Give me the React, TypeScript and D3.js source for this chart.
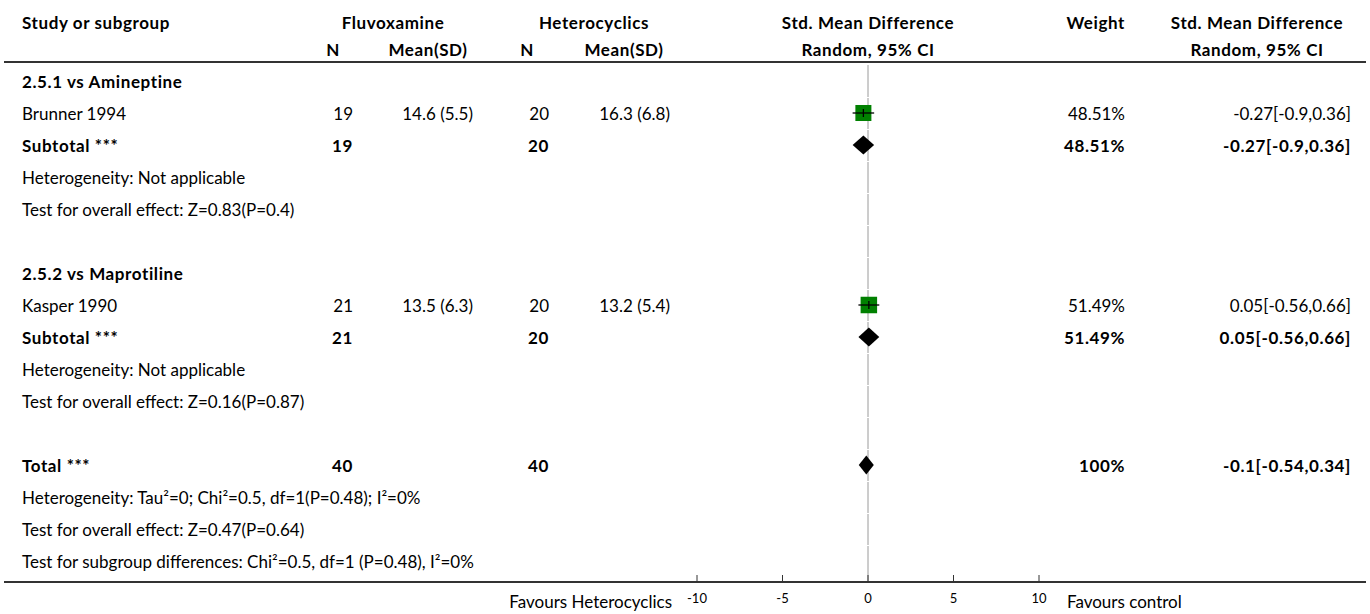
import React from "react";
import * as d3 from "d3";

// ---- data ----
const groupTitles = ["2.5.1 vs Amineptine", "2.5.2 vs Maprotiline"];
const studyNames = ["Brunner 1994", "Kasper 1990"];
const fluvN = [19, 21];
const fluvMeanSD = ["14.6 (5.5)", "13.5 (6.3)"];
const hetN = [20, 20];
const hetMeanSD = ["16.3 (6.8)", "13.2 (5.4)"];
const studySMD = [-0.27, 0.05];
const studyLow = [-0.9, -0.56];
const studyHigh = [0.36, 0.66];
const studyWeight = [48.51, 51.49];
const studyCI = ["-0.27[-0.9,0.36]", "0.05[-0.56,0.66]"];

const subN1 = [19, 21];
const subN2 = [20, 20];
const subSMD = [-0.27, 0.05];
const subLow = [-0.9, -0.56];
const subHigh = [0.36, 0.66];
const subWeight = ["48.51%", "51.49%"];
const subCI = ["-0.27[-0.9,0.36]", "0.05[-0.56,0.66]"];
const subHet = ["Heterogeneity: Not applicable", "Heterogeneity: Not applicable"];
const subTest = ["Test for overall effect: Z=0.83(P=0.4)", "Test for overall effect: Z=0.16(P=0.87)"];

const totalN1 = 40;
const totalN2 = 40;
const totalSMD = -0.1;
const totalLow = -0.54;
const totalHigh = 0.34;
const totalWeight = "100%";
const totalCI = "-0.1[-0.54,0.34]";
const totalLines = [
  "Heterogeneity: Tau\u00B2=0; Chi\u00B2=0.5, df=1(P=0.48); I\u00B2=0%",
  "Test for overall effect: Z=0.47(P=0.64)",
  "Test for subgroup differences: Chi\u00B2=0.5, df=1 (P=0.48), I\u00B2=0%",
];

const axisTicks = [-10, -5, 0, 5, 10];
const xDomain = [-10, 10];
const favLeft = "Favours Heterocyclics";
const favRight = "Favours control";

// ---- layout ----
const W = 1370;
const H = 614;
const FONT = "Lato, 'Source Sans Pro', 'Noto Sans', sans-serif";
const FS = 17;

type Row =
  | { kind: "group"; label: string }
  | { kind: "study"; i: number }
  | { kind: "sub"; i: number }
  | { kind: "text"; label: string }
  | { kind: "blank" }
  | { kind: "total" };

export default function App() {
  const rows: Row[] = [];
  groupTitles.forEach((g, gi) => {
    rows.push({ kind: "group", label: g });
    rows.push({ kind: "study", i: gi });
    rows.push({ kind: "sub", i: gi });
    rows.push({ kind: "text", label: subHet[gi] });
    rows.push({ kind: "text", label: subTest[gi] });
    rows.push({ kind: "blank" });
  });
  rows.push({ kind: "total" });
  totalLines.forEach((t) => rows.push({ kind: "text", label: t }));

  const x = d3.scaleLinear().domain(xDomain).range([697, 1039]);
  const y = d3
    .scaleLinear()
    .domain([0, rows.length - 1])
    .range([81, 81 + 32 * (rows.length - 1)]);
  const wScale = d3.scaleSqrt().domain([0, 100]).range([0, 23]);

  const colStudy = 22;
  const colN1 = 353;
  const colM1 = 473;
  const colN2 = 549;
  const colM2 = 670;
  const colW = 1125;
  const colCI = 1351;
  const headerLineY = 62;
  const axisY = 582;

  const txt = (
    s: string | number,
    xx: number,
    yy: number,
    anchor: "start" | "middle" | "end",
    bold = false,
    key?: string
  ) => (
    <text
      key={key}
      x={xx}
      y={yy}
      textAnchor={anchor}
      dominantBaseline="central"
      fontWeight={bold ? 700 : 400}
      letterSpacing={bold ? 0.6 : 0}
      fontSize={FS}
      fill="#000"
    >
      {s}
    </text>
  );

  const diamond = (m: number, lo: number, hi: number, yy: number) => {
    const h = 9.5;
    const pts = [
      [x(lo), yy],
      [x(m), yy - h],
      [x(hi), yy],
      [x(m), yy + h],
    ];
    return <path d={(d3.line()(pts as [number, number][]) || "") + "Z"} fill="#000" />;
  };

  const els: React.ReactNode[] = [];
  rows.forEach((r, ri) => {
    const yy = y(ri);
    if (r.kind === "group") {
      els.push(<g key={ri}>{txt(r.label, colStudy, yy, "start", true)}</g>);
    } else if (r.kind === "study") {
      const i = r.i;
      const s = wScale(studyWeight[i]);
      els.push(
        <g key={ri}>
          {txt(studyNames[i], colStudy, yy, "start")}
          {txt(fluvN[i], colN1, yy, "end")}
          {txt(fluvMeanSD[i], colM1, yy, "end")}
          {txt(hetN[i], colN2, yy, "end")}
          {txt(hetMeanSD[i], colM2, yy, "end")}
          <rect x={x(studySMD[i]) - s / 2} y={yy - s / 2} width={s} height={s} fill="#008000" />
          <line x1={x(studyLow[i])} x2={x(studyHigh[i])} y1={yy} y2={yy} stroke="#000" strokeWidth={1.3} />
          <line x1={x(studySMD[i])} x2={x(studySMD[i])} y1={yy - 4} y2={yy + 4} stroke="#000" strokeWidth={1.3} />
          {txt(studyWeight[i].toFixed(2) + "%", colW, yy, "end")}
          {txt(studyCI[i], colCI, yy, "end")}
        </g>
      );
    } else if (r.kind === "sub") {
      const i = r.i;
      els.push(
        <g key={ri}>
          {txt("Subtotal ***", colStudy, yy, "start", true)}
          {txt(subN1[i], colN1, yy, "end", true)}
          {txt(subN2[i], colN2, yy, "end", true)}
          {diamond(subSMD[i], subLow[i], subHigh[i], yy)}
          {txt(subWeight[i], colW, yy, "end", true)}
          {txt(subCI[i], colCI, yy, "end", true)}
        </g>
      );
    } else if (r.kind === "text") {
      els.push(<g key={ri}>{txt(r.label, colStudy, yy, "start")}</g>);
    } else if (r.kind === "total") {
      els.push(
        <g key={ri}>
          {txt("Total ***", colStudy, yy, "start", true)}
          {txt(totalN1, colN1, yy, "end", true)}
          {txt(totalN2, colN2, yy, "end", true)}
          {diamond(totalSMD, totalLow, totalHigh, yy)}
          {txt(totalWeight, colW, yy, "end", true)}
          {txt(totalCI, colCI, yy, "end", true)}
        </g>
      );
    }
  });

  const zeroSegs = rows.map((_, ri) => {
    const top = ri === 0 ? headerLineY + 3 : y(ri) - 16 + 1;
    const bot = ri === rows.length - 1 ? axisY : y(ri) + 16;
    return <line key={"z" + ri} x1={x(0)} x2={x(0)} y1={top} y2={bot} stroke="#9a9a9a" strokeWidth={1} />;
  });

  return (
    <svg
      width={W}
      height={H}
      style={{ position: "absolute", left: 0, top: 0, background: "#fff" }}
      fontFamily={FONT}
    >
      {txt("Study or subgroup", colStudy, 22, "start", true)}
      {txt("Fluvoxamine", 393, 22, "middle", true)}
      {txt("Heterocyclics", 594, 22, "middle", true)}
      {txt("Std. Mean Difference", x(0), 22, "middle", true)}
      {txt("Weight", colW, 22, "end", true)}
      {txt("Std. Mean Difference", 1257, 22, "middle", true)}
      {txt("N", 333, 49, "middle", true)}
      {txt("Mean(SD)", 428, 49, "middle", true)}
      {txt("N", 527, 49, "middle", true)}
      {txt("Mean(SD)", 624, 49, "middle", true)}
      {txt("Random, 95% CI", x(0), 49, "middle", true)}
      {txt("Random, 95% CI", 1257, 49, "middle", true)}
      <line x1={4} x2={1366} y1={headerLineY} y2={headerLineY} stroke="#333" strokeWidth={2} />

      {zeroSegs}
      {els}

      <line x1={4} x2={1366} y1={axisY} y2={axisY} stroke="#333" strokeWidth={2} />
      {axisTicks.map((t) => (
        <g key={"t" + t}>
          <line x1={x(t)} x2={x(t)} y1={axisY - 7} y2={axisY} stroke="#333" strokeWidth={1} />
          <text x={x(t)} y={598} textAnchor="middle" dominantBaseline="central" fontSize={13} fill="#000">
            {t}
          </text>
        </g>
      ))}
      <text x={672} y={601} textAnchor="end" dominantBaseline="central" fontSize={FS} fill="#000">
        {favLeft}
      </text>
      <text x={1067} y={601} textAnchor="start" dominantBaseline="central" fontSize={FS} fill="#000">
        {favRight}
      </text>
    </svg>
  );
}
